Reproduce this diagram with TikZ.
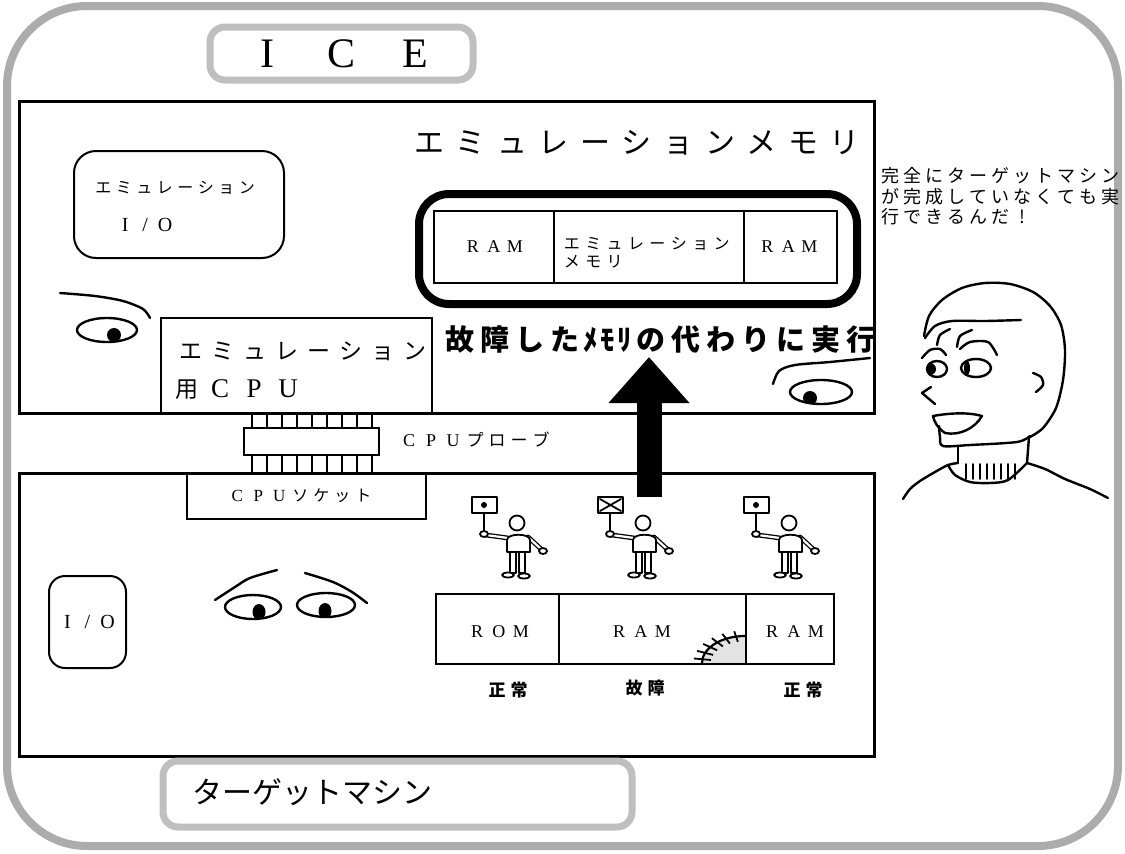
\documentclass[tikz,border=0pt]{standalone}
\usepackage{fontspec}
\setmainfont{Liberation Serif}
\newfontfamily\jp{Noto Sans CJK JP}
\usetikzlibrary{calc,arrows.meta}
\makeatletter
% set each character of #2 in a box of width #1 (wide, even tracking)
\newcommand\trk[2]{\@tfor\tk:=#2\do{\makebox[#1]{\tk}}}
\makeatother
\newcommand\fsz[1]{\fontsize{#1}{#1}\selectfont}

\tikzset{
  ink/.style={line width=2.4pt, line cap=round, line join=round},
  thinink/.style={line width=1.6pt, line cap=round},
  fig/.style={line width=1.8pt, line join=round, line cap=round},
  panel/.style={draw, line width=2.6pt, inner sep=0pt, anchor=north west},
  cell/.style={draw, line width=1.8pt, inner sep=0pt, anchor=north west},
  softbox/.style={draw, line width=2pt, rounded corners=#1, inner sep=0pt, anchor=north west},
  graytag/.style={draw=gray!50, line width=7pt, rounded corners=15pt, inner sep=0pt},
  txt/.style={inner sep=0pt},
  probepin/.style={line width=2pt},
  holder/.pic={
    \draw[fig] (-45,-26) rectangle (-20,-10);
    \draw[fig] (-33,-10) -- (-33,9);
    \draw[fig, double=white, double distance=2.2pt, line width=1.3pt] (-31,12) -- (-9,15);
    \draw[fig, fill=white] (-33,11) ellipse [x radius=4, y radius=3];
    \draw[fig, double=white, double distance=2.2pt, line width=1.3pt] (11,14) -- (24,26);
    \draw[fig, fill=white] (26,28) ellipse [x radius=4, y radius=3];
    \draw[fig, fill=white] (-10,29) -- (-10,17) .. controls (-10,10) and (13,10) .. (13,17) -- (13,29) -- cycle;
    \draw[fig, fill=white] (0,0) circle (7.5);
    \draw[fig] (-7,29) rectangle (-1,50);
    \draw[fig] (2,29) rectangle (8,50);
    \draw[fig, fill=white] (-9,52) ellipse [x radius=6, y radius=2.5];
    \draw[fig, fill=white] (7,53) ellipse [x radius=6, y radius=2.5];
  },
  okmark/.pic={\fill (-33,-18) circle (3);},
  badmark/.pic={\draw[fig] (-43,-24) -- (-22,-12) (-43,-12) -- (-22,-24);},
}

\begin{document}
\begin{tikzpicture}[x=1pt,y=-1pt]
\useasboundingbox (0,0) rectangle (1125,854);
\fill[white] (0,0) rectangle (1125,854);

% outer frame
\draw[draw=gray!65, line width=8pt, rounded corners=80pt] (7,6) rectangle (1118,846);

% ---------------- ICE ----------------
\node[graytag, minimum width=263, minimum height=53] (icetag) at (341.5,53.5) {\fsz{42}\trk{74pt}{ICE}};
\node[panel, minimum width=855, minimum height=312] (ice) at (18,100) {};

\node[softbox=22, minimum width=210, minimum height=107] (emuio) at (73,150) {};
\node[txt, anchor=west, font=\jp\fsz{16}] (emuiot) at (93,188) {\trk{20.5pt}{エミュレーション}};
\node[txt, anchor=west, font=\fsz{20}] (emuioio) at (115,225) {\trk{20pt}{I/O}};

\node[cell, line width=2.2pt, minimum width=271, minimum height=95] (emucpu) at (160,317) {};
\node[txt, anchor=west, font=\jp\fsz{23}] (cpuone) at (175,351) {\trk{32pt}{エミュレーション}};
\node[txt, anchor=west] (cputwo) at (175,390) {{\jp\fsz{23}\makebox[28pt][l]{用}}{\fsz{27}\trk{34pt}{CPU}}};

\node[txt, anchor=west, font=\jp\fsz{30}] (memtitle) at (408,143) {\trk{41.6pt}{エミュレーションメモリ}};

\node[softbox=30, line width=8pt, minimum width=438, minimum height=110] (memframe) at (415,190) {};
\node[cell, minimum width=120, minimum height=72] (ramA) at (433,210) {};
\node[cell, minimum width=190, minimum height=72] (emum) at (553,210) {};
\node[cell, minimum width=93, minimum height=72] (ramB) at (743,210) {};
\node[txt, font=\fsz{18}] (ramAt) at (ramA) {\trk{21pt}{RAM}};
\node[txt, font=\fsz{18}] (ramBt) at ([xshift=-2pt]ramB.center) {\trk{21pt}{RAM}};
\node[txt, anchor=west, font=\jp\fsz{16}] (emumone) at (561,244) {\trk{21.4pt}{エミュレーション}};
\node[txt, anchor=west, font=\jp\fsz{16}] (emumtwo) at (561,262) {\trk{21.4pt}{メモリ}};

\node[txt, anchor=west, font=\jp\bfseries\fsz{29}] (subst) at (442,340) {\trk{35pt}{故障した}\trk{17pt}{ﾒﾓﾘ}\trk{35pt}{の代わりに実行}};

% eyes watching from the ICE box
\draw[ink] plot[smooth] coordinates {(60,293) (95,296) (123,301) (143,309) (150,318)};
\draw[ink] (107,330) ellipse [x radius=30, y radius=12];
\begin{scope}
  \clip (107,330) ellipse [x radius=30, y radius=12];
  \fill (114,335) circle (7);
\end{scope}
\draw[ink] plot[smooth] coordinates {(773,384) (779,371) (795,365) (830,362) (870,358)};
\draw[ink] (821,392) ellipse [x radius=31, y radius=12];
\begin{scope}
  \clip (821,392) ellipse [x radius=31, y radius=12];
  \fill (810,398) circle (7);
\end{scope}

% ---------------- target machine ----------------
\node[panel, minimum width=855, minimum height=283] (target) at (18,472) {};

% CPU probe with its pins
\node[cell, minimum width=135, minimum height=27] (probe) at (243,427) {};
\foreach \i in {0,...,8} {
  \draw[probepin] ([xshift={9+15*\i}]probe.north west) -- ([xshift={9+15*\i}]probe.north west |- ice.south);
  \draw[probepin] ([xshift={9+15*\i}]probe.south west) -- ([xshift={9+15*\i}]probe.south west |- target.north);
}
\node[txt, anchor=west] (probet) at (398,440) {{\fsz{18}\trk{22pt}{CPU}}{\jp\fsz{17}\trk{22pt}{プローブ}}};

\node[cell, minimum width=239, minimum height=46] (socket) at (186,472) {};
\node[txt] (sockett) at ([xshift=-6pt]socket.center) {{\fsz{17}\trk{21pt}{CPU}}{\jp\fsz{16}\trk{21pt}{ソケット}}};

\node[softbox=16, minimum width=77, minimum height=92] (io) at (48,575) {};
\node[txt, font=\fsz{20}] (iot) at (io) {\trk{20pt}{I/O}};

% worried eyes in the target
\draw[ink] plot[smooth] coordinates {(215,600) (235,587) (250,578) (277,570)};
\draw[ink] plot[smooth] coordinates {(305,573) (333,582) (352,592) (367,603)};
\draw[ink] (253,607) ellipse [x radius=28, y radius=12];
\draw[ink] (326,605) ellipse [x radius=29, y radius=12];
\begin{scope}
  \clip (253,607) ellipse [x radius=28, y radius=12];
  \fill (259,612) ellipse [x radius=6.5, y radius=8];
\end{scope}
\begin{scope}
  \clip (326,605) ellipse [x radius=29, y radius=12];
  \fill (325,611) ellipse [x radius=6.5, y radius=8];
\end{scope}

% damaged corner of the RAM
\coordinate (crack) at (745,663);
\fill[gray!22] (crack) -- ++(-43,0) arc[start angle=180, end angle=270, x radius=43, y radius=27] -- cycle;

\node[cell, minimum width=123, minimum height=70] (rom) at (435,593) {};
\node[cell, minimum width=187, minimum height=70] (ramc) at (558,593) {};
\node[cell, minimum width=88, minimum height=70] (ramd) at (745,593) {};
\node[txt, font=\fsz{18}] (romt) at (499,632) {\trk{22pt}{ROM}};
\node[txt, font=\fsz{18}] (ramct) at (641,632) {\trk{22pt}{RAM}};
\node[txt, font=\fsz{18}] (ramdt) at (794,632) {\trk{22pt}{RAM}};

\draw[line width=2.2pt] ([xshift=-43pt]crack) arc[start angle=180, end angle=270, x radius=43, y radius=27];
\foreach \a in {188,202,...,258}
  \draw[line width=1.8pt] ($(crack)+({0.8*43*cos(\a)},{0.8*27*sin(\a)})$) -- ($(crack)+({1.2*43*cos(\a)},{1.2*27*sin(\a)})$);

\node[txt, font=\jp\bfseries\fsz{17}] (okone) at (508,690) {\trk{22pt}{正常}};
\node[txt, font=\jp\bfseries\fsz{17}] (broken) at (645,688) {\trk{22pt}{故障}};
\node[txt, font=\jp\bfseries\fsz{17}] (oktwo) at (803,690) {\trk{22pt}{正常}};

% people holding status signs
\pic at (517,523) {holder};
\pic at (517,523) {okmark};
\pic at (643,523) {holder};
\pic at (643,523) {badmark};
\pic at (789,523) {holder};
\pic at (789,523) {okmark};

% substitution arrow
\coordinate (upfrom) at (649,497);
\coordinate (upto) at (649,357);
\draw[line width=25pt, -{Triangle[width=78pt,length=46pt]}] (upfrom) -- (upto);

\node[graytag, minimum width=469, minimum height=66] (targettag) at (397.5,794) {};
\node[txt, anchor=west, font=\jp\fsz{30}] (targett) at (192,792) {\trk{30pt}{ターゲットマシン}};

% ---------------- speaker ----------------
\node[txt, anchor=west, font=\jp\fsz{18}] (sayone) at (879,176) {\trk{22pt}{完全にターゲットマシン}};
\node[txt, anchor=west, font=\jp\fsz{18}] (saytwo) at (879,197) {\trk{22pt}{が完成していなくても実}};
\node[txt, anchor=west, font=\jp\fsz{18}] (saythree) at (879,217) {\trk{22pt}{行できるんだ!}};

\draw[ink] plot[smooth] coordinates {(924,336) (929,316) (942,300) (962,288) (985,283) (1010,284) (1033,292) (1050,306) (1061,325) (1065,350) (1063,380) (1056,408) (1043,428) (1030,437)};
\draw[ink] plot[smooth] coordinates {(925,338) (935,326) (952,321) (985,321) (1021,320)};
\draw[ink] plot[smooth] coordinates {(937,345) (940,335) (950,329)};
\draw[ink] plot[smooth] coordinates {(957,347) (960,336) (972,330)};
\draw[ink] plot[smooth] coordinates {(922,358) (930,350) (940,349) (946,355)};
\draw[ink] plot[smooth] coordinates {(960,349) (970,342) (988,342) (997,355)};
\draw[ink] (937,369) ellipse [x radius=10, y radius=8];
\begin{scope}
  \clip (937,369) ellipse [x radius=10, y radius=8];
  \fill (930,369) circle (6);
\end{scope}
\draw[ink] (976,368) ellipse [x radius=15, y radius=9];
\fill (967,368) ellipse [x radius=3, y radius=7];
\draw[ink] (931,387) -- (922,393) -- (935,404);
\draw[ink] plot[smooth] coordinates {(1033,373) (1041,377) (1043,385) (1036,392)};
\draw[ink] (933,416) .. controls (950,413) and (968,412) .. (982,416) .. controls (975,428) and (960,436) .. (945,433) .. controls (938,428) and (934,422) .. (933,416) -- cycle;
\draw[ink] plot[smooth] coordinates {(939,426) (940,437) (943,446) (970,445) (1017,442) (1030,436)};
\draw[ink] (958,447) -- (958,463);
\draw[ink] (1029,437) -- (1027,463);
\draw[ink] plot[smooth] coordinates {(948,465) (955,475) (970,482) (990,483) (1008,480) (1027,463)};
\foreach \x in {966,973,...,1015}
  \draw[thinink] (\x,464) -- (\x,479);
\draw[ink] plot[smooth] coordinates {(958,463) (948,465) (935,472) (920,481) (910,489) (903,499)};
\draw[ink] plot[smooth] coordinates {(1027,463) (1045,469) (1065,479) (1090,489) (1108,498)};

\end{tikzpicture}
\end{document}
